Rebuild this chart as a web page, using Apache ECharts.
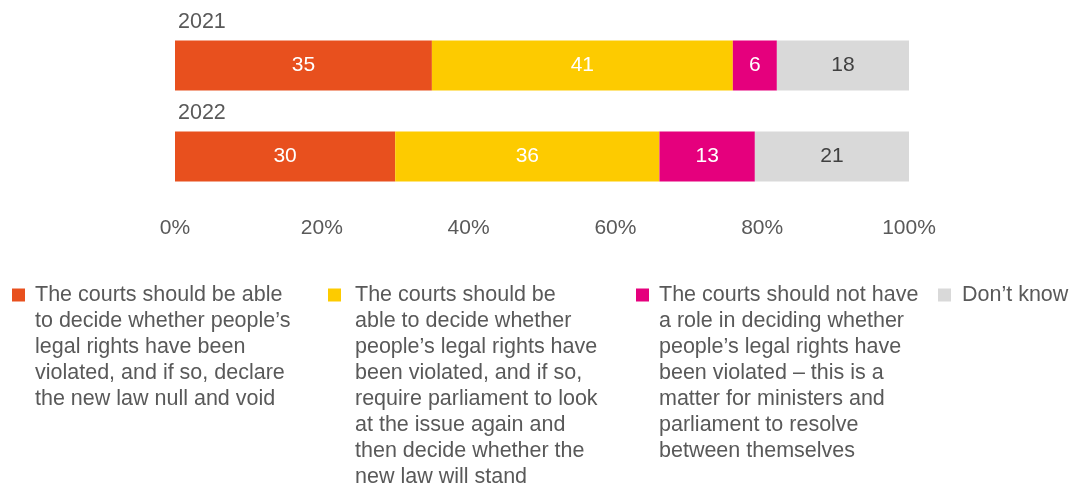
<!DOCTYPE html>
<html>
<head>
<meta charset="utf-8">
<script src="https://cdn.jsdelivr.net/npm/echarts@6/dist/echarts.min.js"></script>
<style>html,body{margin:0;padding:0;background:#fff;}#c{width:1075px;height:485px;}</style>
</head>
<body>
<div id="c"></div>
<script>
const years = ['2021', '2022'];
const courtsVoid = [35, 30];
const courtsParliament = [41, 36];
const courtsNoRole = [6, 13];
const dontKnow = [18, 21];
const xTicks = [0, 20, 40, 60, 80, 100];
const seriesColors = ['#E8501E', '#FDCB00', '#E5007D', '#D9D9D9'];
const legendLines = [
  ['The courts should be able', 'to decide whether people’s', 'legal rights have been', 'violated, and if so, declare', 'the new law null and void'],
  ['The courts should be', 'able to decide whether', 'people’s legal rights have', 'been violated, and if so,', 'require parliament to look', 'at the issue again and', 'then decide whether the', 'new law will stand'],
  ['The courts should not have', 'a role in deciding whether', 'people’s legal rights have', 'been violated – this is a', 'matter for ministers and', 'parliament to resolve', 'between themselves'],
  ['Don’t know']
];
const seriesValues = [courtsVoid, courtsParliament, courtsNoRole, dontKnow];
const labelColors = ['#ffffff', '#ffffff', '#ffffff', '#404040'];
const legendLeft = [7, 323, 631, 933];
const legendGap = [10, 14, 10, 11];

const FONT = '"Liberation Sans", Arial, sans-serif';
const TEXT = '#595959';

const names = legendLines.map(l => l.join(' '));

const series = seriesValues.map((vals, i) => ({
  name: names[i],
  type: 'bar',
  stack: 'total',
  barWidth: 50,
  data: vals,
  itemStyle: { color: seriesColors[i] },
  label: {
    show: true,
    position: 'inside',
    color: labelColors[i],
    fontSize: 21,
    fontFamily: FONT
  },
  emphasis: { disabled: true }
}));

const legends = names.map((n, i) => ({
  data: [n],
  left: legendLeft[i],
  top: 282,
  padding: 0,
  itemWidth: 0,
  itemHeight: 0,
  selectedMode: false,
  formatter: function () {
    return legendLines[i].map((line, k) => (k === 0 ? '{sq|}{g|}' : '{ind|}') + line).join('\n');
  },
  textStyle: {
    fontSize: 21.5,
    fontFamily: FONT,
    color: TEXT,
    lineHeight: 26,
    rich: {
      sq: { width: 13, height: 13, backgroundColor: seriesColors[i] },
      g: { width: legendGap[i] },
      ind: { width: 13 + legendGap[i] }
    }
  }
}));

const chart = echarts.init(document.getElementById('c'), null, { renderer: 'canvas' });
chart.setOption({
  animation: false,
  textStyle: { fontFamily: FONT },
  grid: { left: 175, right: 166, top: 20, bottom: 283, containLabel: false },
  xAxis: {
    type: 'value',
    min: 0, max: 100, interval: 20,
    axisLine: { show: false },
    axisTick: { show: false },
    splitLine: { show: false },
    axisLabel: {
      formatter: v => xTicks.includes(v) ? v + '%' : '',
      fontSize: 21, fontFamily: FONT, color: TEXT, margin: 16
    }
  },
  yAxis: {
    type: 'category',
    data: years,
    inverse: true,
    axisLine: { show: false },
    axisTick: { show: false },
    axisLabel: {
      inside: true,
      align: 'left',
      verticalAlign: 'bottom',
      padding: [0, 0, 32, 0],
      margin: 3,
      fontSize: 21.5, fontFamily: FONT, color: TEXT
    }
  },
  legend: legends,
  series: series
});
</script>
</body>
</html>
